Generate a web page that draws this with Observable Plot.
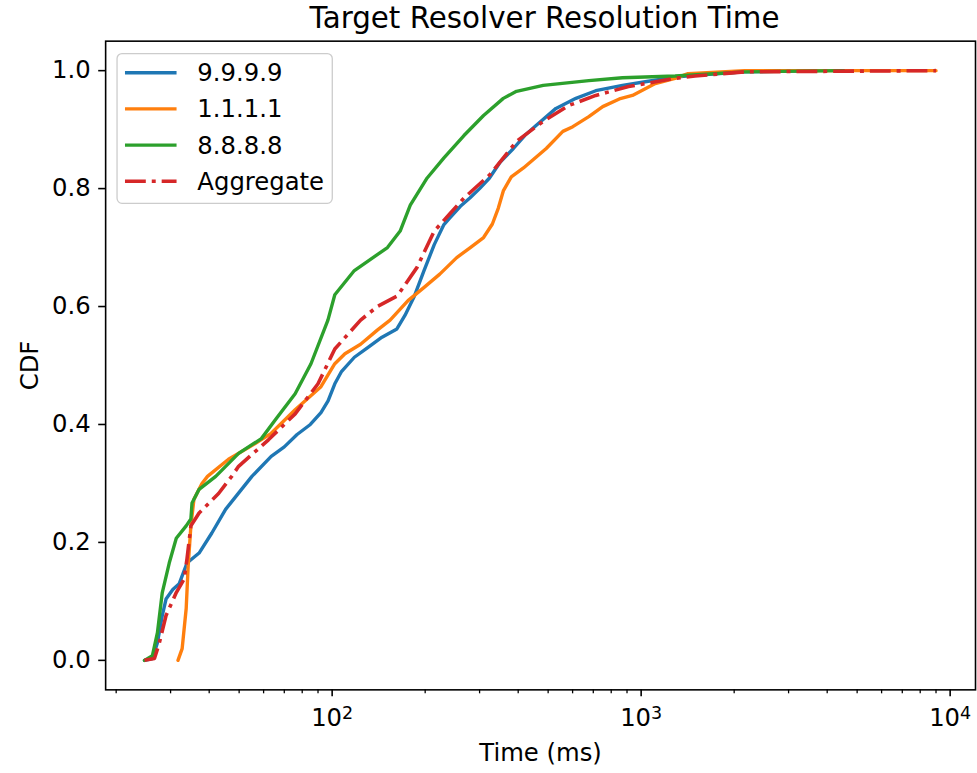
<!DOCTYPE html>
<html><head><meta charset="utf-8">
<script src="https://cdn.jsdelivr.net/npm/d3@7"></script>
<script src="https://cdn.jsdelivr.net/npm/@observablehq/plot@0.6"></script>
<style>
html,body{margin:0;padding:0;background:#fff;overflow:hidden;}
#chart{position:relative;width:977px;height:773px;overflow:hidden;}
</style></head>
<body><div id="chart"></div>
<script>
const titleText = "Target Resolver Resolution Time";
const xLabel = "Time (ms)";
const yLabel = "CDF";
const seriesNames = ["9.9.9.9", "1.1.1.1", "8.8.8.8", "Aggregate"];
const seriesColors = ["#1f77b4", "#ff7f0e", "#2ca02c", "#d62728"];
const xMajorTicks = [100, 1000, 10000];
const xMajorBase = "10";
const xMajorExponents = ["2", "3", "4"];
const xMinorTicks = [20,30,40,50,60,70,80,90,200,300,400,500,600,700,800,900,2000,3000,4000,5000,6000,7000,8000,9000];
const yTicks = [0, 0.2, 0.4, 0.6, 0.8, 1.0];
const yTickLabels = ["0.0", "0.2", "0.4", "0.6", "0.8", "1.0"];

// [time ms, CDF]
const cdf9999 = [[24.7,0],[26.2,0.003],[27.2,0.03],[28.2,0.076],[29.0,0.104],[30.5,0.12],[32.0,0.13],[33.9,0.165],[37.1,0.182],[40.8,0.216],[45.2,0.256],[50.9,0.29],[55,0.312],[63.5,0.346],[70,0.362],[77,0.383],[85,0.40],[92,0.42],[97,0.44],[102,0.469],[107,0.489],[118,0.514],[130,0.53],[145,0.548],[162,0.562],[172,0.585],[184,0.616],[198,0.66],[214,0.705],[230,0.739],[240,0.75],[260,0.77],[279,0.784],[300,0.80],[323,0.818],[350,0.845],[386,0.868],[420,0.89],[457,0.907],[530,0.936],[615,0.953],[713,0.966],[870,0.975],[1055,0.982],[1288,0.989],[1493,0.992],[2160,0.998],[3545,1.0]];
const cdf1111 = [[31.7,0],[32.7,0.02],[33.7,0.088],[34.2,0.16],[34.9,0.228],[35.7,0.273],[37.9,0.30],[39.5,0.312],[46.2,0.341],[56.5,0.368],[63.5,0.385],[75.9,0.425],[92,0.464],[102,0.503],[110,0.52],[123.6,0.536],[140,0.56],[154,0.577],[176,0.61],[198,0.632],[223,0.655],[253,0.683],[280,0.70],[309,0.717],[330,0.74],[345,0.767],[358,0.796],[380,0.82],[416,0.835],[493,0.868],[558,0.897],[601,0.905],[677,0.922],[751,0.939],[850,0.952],[937,0.958],[1111,0.978],[1288,0.987],[1418,0.995],[2160,1.0],[9000,1.0]];
const cdf8888 = [[24.7,0],[26.2,0.008],[27.2,0.047],[28.2,0.115],[29.7,0.165],[31.3,0.207],[33.7,0.228],[34.9,0.24],[35.2,0.267],[37.1,0.29],[42,0.312],[49.8,0.351],[59,0.376],[65.5,0.408],[75.9,0.452],[85.4,0.503],[96.9,0.577],[102,0.62],[118,0.661],[140,0.688],[151,0.70],[166,0.728],[179,0.772],[203,0.818],[230,0.852],[267,0.89],[309,0.924],[358,0.953],[395,0.965],[482,0.975],[677,0.983],[870,0.988],[1288,0.991],[2160,0.998],[4525,1.0]];
const cdfAggregate = [[24.7,0],[26.6,0.003],[27.6,0.03],[29.0,0.076],[31.3,0.115],[33.2,0.138],[33.9,0.172],[34.9,0.228],[37.1,0.25],[42.9,0.283],[47.3,0.312],[49.8,0.329],[62.2,0.374],[75.9,0.418],[90,0.469],[102,0.528],[123.6,0.577],[140,0.60],[162.5,0.618],[188,0.666],[214,0.728],[240,0.757],[267,0.784],[323,0.823],[395,0.88],[482,0.914],[584,0.941],[713,0.958],[910,0.973],[1288,0.987],[1493,0.991],[2160,0.998],[9000,1.0]];

const seriesData = [cdf9999, cdf1111, cdf8888, cdfAggregate];
const dashes = [null, null, null, "21,6,4,6"];
const widths = [3.4, 3.4, 3.4, 3.6];

const FONT = "DejaVu Sans";
const FS = 24.5;
const W = 985, H = 773;
const mL = 106, mR = 2, mT = 41, mB = 78;

const lineMarks = seriesData.map((d, i) => Plot.line(d, {
  x: p => p[0], y: p => p[1],
  stroke: seriesColors[i], strokeWidth: widths[i],
  strokeDasharray: dashes[i] || undefined,
  strokeLinejoin: "round", strokeLinecap: i === 3 ? "butt" : "round"
}));

const chart = Plot.plot({
  width: W, height: H,
  marginLeft: mL, marginRight: mR, marginTop: mT, marginBottom: mB,
  style: {fontFamily: FONT, fontSize: FS + "px", background: "white", color: "black", overflow: "visible"},
  x: {type: "log", domain: [18.49, 12080], axis: null},
  y: {domain: [-0.05, 1.05], axis: null},
  marks: [
    ...lineMarks,
    Plot.frame({stroke: "black", strokeWidth: 1.6}),
    Plot.axisX(xMinorTicks, {anchor: "bottom", tickSize: 4, strokeWidth: 1.3, tickFormat: () => "", label: null}),
    Plot.axisX(xMajorTicks, {anchor: "bottom", tickSize: 7, tickPadding: 12, strokeWidth: 1.6, fontSize: FS,
      tickFormat: d => xMajorBase + xMajorExponents[xMajorTicks.indexOf(d)], label: null}),
    Plot.axisY(yTicks, {anchor: "left", tickSize: 7, tickPadding: 8, strokeWidth: 1.6, fontSize: FS,
      tickFormat: d => yTickLabels[yTicks.indexOf(d)], label: null}),
    Plot.text([titleText], {frameAnchor: "top", lineAnchor: "middle", dx: 4, dy: -22.5, fontSize: 29.6, fill: "black"}),
    Plot.text([xLabel], {frameAnchor: "bottom", lineAnchor: "middle", dy: 64, fontSize: FS, fill: "black"}),
    Plot.text([yLabel], {frameAnchor: "left", textAnchor: "middle", lineAnchor: "middle", dx: -76, rotate: -90, fontSize: FS, fill: "black"})
  ]
});

document.getElementById("chart").appendChild(chart);

const svg = d3.select(chart);

// Render log-axis labels as 10 with a raised exponent
svg.selectAll("text").each(function() {
  const t = this.textContent;
  const idx = xMajorExponents.findIndex(e => t === xMajorBase + e);
  if (idx >= 0) {
    const el = d3.select(this);
    el.text(null);
    el.append("tspan").text(xMajorBase);
    el.append("tspan").attr("dy", "-0.42em").attr("font-size", "0.72em").text(xMajorExponents[idx]);
  }
});

// Legend inside the axes (upper left)
const lg = svg.append("g").attr("transform", `translate(${mL + 12},${mT + 13})`);
lg.append("rect").attr("width", 217).attr("height", 151).attr("rx", 5)
  .attr("fill", "white").attr("fill-opacity", 0.8).attr("stroke", "#cccccc").attr("stroke-width", 1.3);
seriesNames.forEach((name, i) => {
  const y = 19.3 + i * 36.5;
  lg.append("line").attr("x1", 8).attr("x2", 60).attr("y1", y).attr("y2", y)
    .attr("stroke", seriesColors[i]).attr("stroke-width", widths[i])
    .attr("stroke-dasharray", dashes[i] || null);
  lg.append("text").attr("x", 81).attr("y", y).attr("dy", "0.35em")
    .attr("text-anchor", "start")
    .attr("font-family", FONT).attr("font-size", FS).attr("fill", "black").text(name);
});
</script>
</body></html>
